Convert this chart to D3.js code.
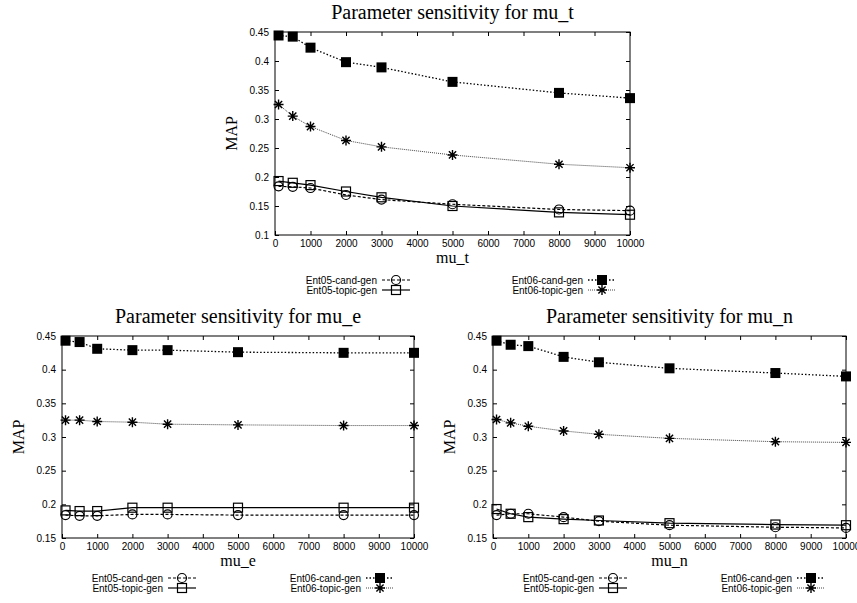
<!DOCTYPE html>
<html>
<head>
<meta charset="utf-8">
<script src="https://cdn.jsdelivr.net/npm/d3@7"></script>
<style>
body { margin: 0; background: #fff; }
svg { display: block; }
.tick text { font-family: "Liberation Sans", Arial, sans-serif; font-size: 10px; fill: #000; }
.tick line { stroke: #000; }
.title { font-family: "Liberation Serif", "Times New Roman", serif; font-size: 20px; }
.label { font-family: "Liberation Serif", "Times New Roman", serif; font-size: 16px; }
.legend text { font-family: "Liberation Sans", Arial, sans-serif; font-size: 10px; }
</style>
</head>
<body>
<svg width="857" height="603"></svg>
<script>
// data

let muValues = [100, 500, 1000, 2000, 3000, 5000, 8000, 10000];
let xTicks = [0, 1000, 2000, 3000, 4000, 5000, 6000, 7000, 8000, 9000, 10000];
let yTicksTop = [0.1, 0.15, 0.2, 0.25, 0.3, 0.35, 0.4, 0.45];
let yTicksBottom = [0.15, 0.2, 0.25, 0.3, 0.35, 0.4, 0.45];
let seriesNames = ['Ent05-cand-gen', 'Ent05-topic-gen', 'Ent06-cand-gen', 'Ent06-topic-gen'];

// mu_t
let muT_ent05Cand = [0.184, 0.183, 0.181, 0.169, 0.161, 0.153, 0.144, 0.142];
let muT_ent05Topic = [0.193, 0.190, 0.186, 0.175, 0.165, 0.150, 0.139, 0.135];
let muT_ent06Cand = [0.444, 0.442, 0.423, 0.398, 0.389, 0.364, 0.345, 0.336];
let muT_ent06Topic = [0.325, 0.305, 0.287, 0.263, 0.252, 0.238, 0.222, 0.216];

// mu_e
let muE_ent05Cand = [0.184, 0.183, 0.183, 0.185, 0.185, 0.184, 0.184, 0.184];
let muE_ent05Topic = [0.191, 0.190, 0.190, 0.195, 0.195, 0.195, 0.195, 0.195];
let muE_ent06Cand = [0.443, 0.441, 0.431, 0.429, 0.429, 0.426, 0.425, 0.425];
let muE_ent06Topic = [0.325, 0.325, 0.323, 0.322, 0.319, 0.318, 0.317, 0.317];

// mu_n
let muN_ent05Cand = [0.184, 0.186, 0.186, 0.181, 0.175, 0.169, 0.166, 0.165];
let muN_ent05Topic = [0.193, 0.186, 0.181, 0.178, 0.176, 0.172, 0.170, 0.169];
let muN_ent06Cand = [0.443, 0.437, 0.435, 0.419, 0.411, 0.402, 0.395, 0.390];
let muN_ent06Topic = [0.326, 0.321, 0.316, 0.309, 0.304, 0.298, 0.293, 0.292];

// styles per series

let styles = [
    { marker: 'circle', dash: '3,2', width: 1.2, color: '#000' },
    { marker: 'square', dash: null, width: 1.2, color: '#000' },
    { marker: 'fsquare', dash: '1.5,2', width: 1.3, color: '#000' },
    { marker: 'star', dash: '1,1', width: 1, color: '#444' },
];

let panels = [
    {
        left: 275, top: 32, width: 355, height: 203,
        yDomain: [0.1, 0.45], yTicks: yTicksTop,
        title: 'Parameter sensitivity for mu_t', xLabel: 'mu_t',
        values: [muT_ent05Cand, muT_ent05Topic, muT_ent06Cand, muT_ent06Topic],
        legendY: 280, legendCol: [102, 308],
    },
    {
        left: 62, top: 336, width: 352, height: 202,
        yDomain: [0.15, 0.45], yTicks: yTicksBottom,
        title: 'Parameter sensitivity for mu_e', xLabel: 'mu_e',
        values: [muE_ent05Cand, muE_ent05Topic, muE_ent06Cand, muE_ent06Topic],
        legendY: 578, legendCol: [101, 299],
    },
    {
        left: 493, top: 336, width: 353, height: 202,
        yDomain: [0.15, 0.45], yTicks: yTicksBottom,
        title: 'Parameter sensitivity for mu_n', xLabel: 'mu_n',
        values: [muN_ent05Cand, muN_ent05Topic, muN_ent06Cand, muN_ent06Topic],
        legendY: 578, legendCol: [101, 299],
    },
];

let svg = d3.select('svg');

// markers

function drawMarker(g, type, cx, cy) {
    if (type == 'circle') {
        g.append('circle')
            .attr('cx', cx).attr('cy', cy).attr('r', 4.5)
            .attr('fill', 'none').attr('stroke', '#000').attr('stroke-width', 1.2);
    }
    else if (type == 'square') {
        g.append('rect')
            .attr('x', cx - 4.5).attr('y', cy - 4.5)
            .attr('width', 9).attr('height', 9)
            .attr('fill', 'none').attr('stroke', '#000').attr('stroke-width', 1.2);
    }
    else if (type == 'fsquare') {
        g.append('rect')
            .attr('x', cx - 5).attr('y', cy - 5)
            .attr('width', 10).attr('height', 10)
            .attr('fill', '#000');
    }
    else if (type == 'star') {
        g.append('path')
            .attr('transform', `translate(${cx},${cy})`)
            .attr('d', 'M-5,0H5M0,-5V5M-3.6,-3.6L3.6,3.6M-3.6,3.6L3.6,-3.6')
            .attr('fill', 'none').attr('stroke', '#000').attr('stroke-width', 1.4);
    }
}

// panel

function drawPanel(p) {
    let x = d3.scaleLinear().domain([0, 10000]).range([p.left, p.left + p.width]);
    let y = d3.scaleLinear().domain(p.yDomain).range([p.top + p.height, p.top]);
    let g = svg.append('g');

    g.append('g')
        .attr('transform', `translate(0,${p.top + p.height})`)
        .call(d3.axisBottom(x).tickValues(xTicks).tickSizeInner(-4).tickSizeOuter(0).tickPadding(5)
            .tickFormat(d3.format('d')));
    g.append('g')
        .attr('transform', `translate(0,${p.top})`)
        .call(d3.axisTop(x).tickValues(xTicks).tickSizeInner(-4).tickSizeOuter(0).tickFormat(''));
    g.append('g')
        .attr('transform', `translate(${p.left},0)`)
        .call(d3.axisLeft(y).tickValues(p.yTicks).tickSizeInner(-4).tickSizeOuter(0).tickPadding(6)
            .tickFormat(d3.format('~g')));
    g.append('g')
        .attr('transform', `translate(${p.left + p.width},0)`)
        .call(d3.axisRight(y).tickValues(p.yTicks).tickSizeInner(-4).tickSizeOuter(0).tickFormat(''));
    g.selectAll('.domain').remove();

    g.append('rect')
        .attr('x', p.left).attr('y', p.top)
        .attr('width', p.width).attr('height', p.height)
        .attr('fill', 'none').attr('stroke', '#000').attr('stroke-width', 1);

    // series
    let line = d3.line()
        .x((d) => x(d[0]))
        .y((d) => y(d[1]));

    p.values.forEach((vals, i) => {
        let st = styles[i];
        let pts = muValues.map((m, j) => [m, vals[j]]);
        g.append('path')
            .attr('d', line(pts))
            .attr('fill', 'none')
            .attr('stroke', st.color)
            .attr('stroke-width', st.width)
            .attr('stroke-dasharray', st.dash);
        pts.forEach((d) => drawMarker(g, st.marker, x(d[0]), y(d[1])));
    });

    // texts
    g.append('text')
        .classed('title', 1)
        .attr('x', p.left + p.width / 2)
        .attr('y', p.top - 13)
        .attr('text-anchor', 'middle')
        .text(p.title);

    g.append('text')
        .classed('label', 1)
        .attr('x', p.left + p.width / 2)
        .attr('y', p.top + p.height + 28)
        .attr('text-anchor', 'middle')
        .text(p.xLabel);

    g.append('text')
        .classed('label', 1)
        .attr('transform', `translate(${p.left - 38},${p.top + p.height / 2}) rotate(-90)`)
        .attr('text-anchor', 'middle')
        .text('MAP');

    // legend
    let legend = g.append('g').classed('legend', 1);
    seriesNames.forEach((name, i) => {
        let st = styles[i];
        let col = (i / 2) | 0;
        let tx = p.left + p.legendCol[col];
        let ty = p.legendY + (i % 2) * 10;
        legend.append('text')
            .attr('x', tx).attr('y', ty)
            .attr('dy', '0.35em')
            .attr('text-anchor', 'end')
            .text(name);
        legend.append('line')
            .attr('x1', tx + 5).attr('x2', tx + 33)
            .attr('y1', ty).attr('y2', ty)
            .attr('stroke', st.color)
            .attr('stroke-width', st.width)
            .attr('stroke-dasharray', st.dash);
        drawMarker(legend, st.marker, tx + 19, ty);
    });
}

panels.forEach(drawPanel);
</script>
</body>
</html>
